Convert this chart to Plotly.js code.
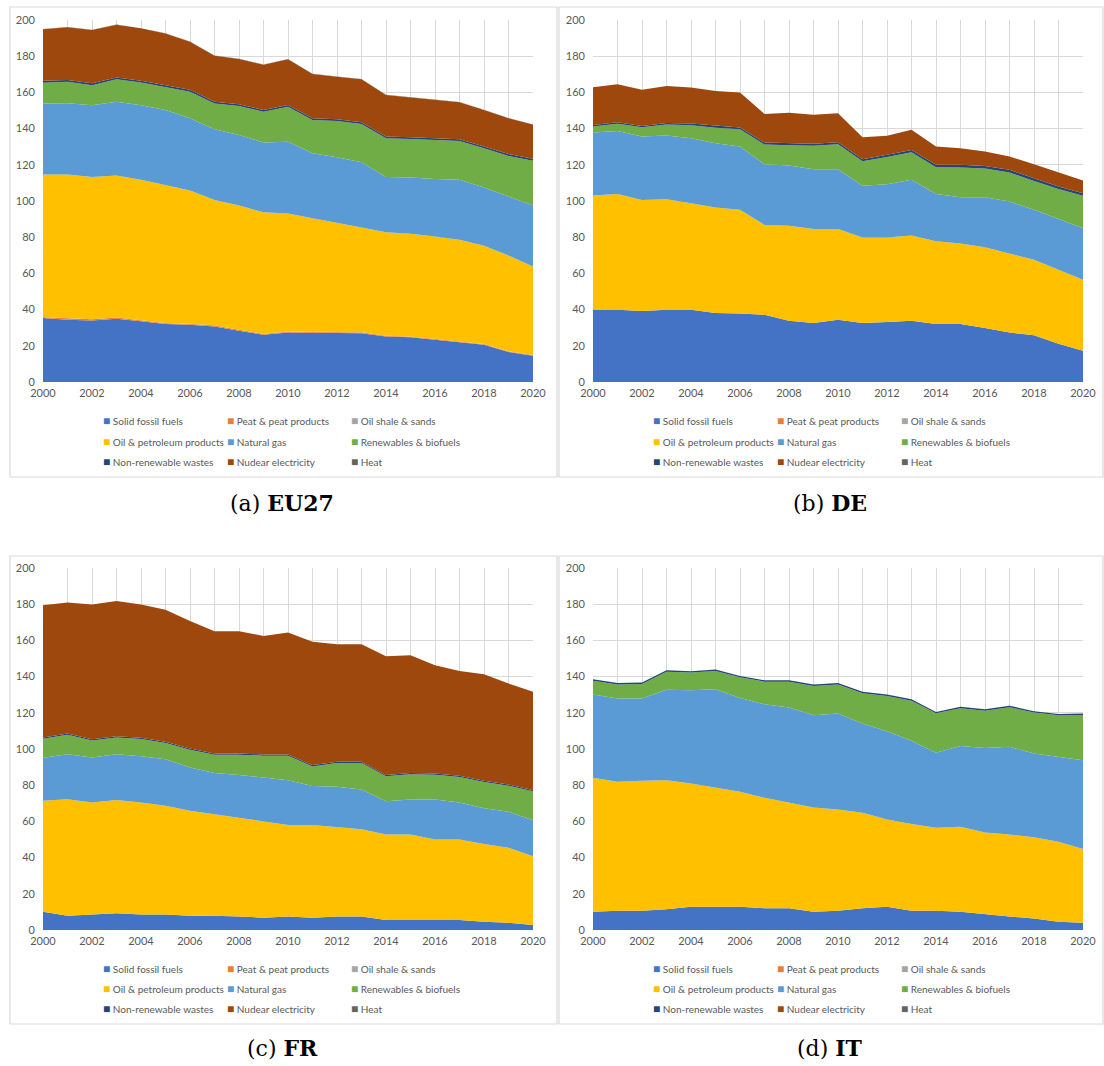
<!DOCTYPE html>
<html>
<head>
<meta charset="utf-8">
<script src="https://cdn.plot.ly/plotly-3.0.1.min.js"></script>
<style>
html,body{margin:0;padding:0;background:#fff;}
#chart{width:1104px;height:1066px;}
</style>
</head>
<body>
<div id="chart"></div>
<script>
// ---------- data ----------
const years = [2000,2001,2002,2003,2004,2005,2006,2007,2008,2009,2010,2011,2012,2013,2014,2015,2016,2017,2018,2019,2020];
const xTickLabels = ["2000","2002","2004","2006","2008","2010","2012","2014","2016","2018","2020"];

const seriesNames = ["Solid fossil fuels","Peat & peat products","Oil shale & sands","Oil & petroleum products","Natural gas","Renewables & biofuels","Non-renewable wastes","Nudear electricity","Heat"];
const seriesColors = ["#4472C4","#ED7D31","#A5A5A5","#FFC000","#5B9BD5","#70AD47","#264478","#9E480E","#636363"];

const panelCodes = ["EU27","DE","FR","IT"];
const panelLetters = ["(a)","(b)","(c)","(d)"];

// EU27
const eu_solid  = [35.3,34.4,34.0,35.0,33.5,32.0,31.6,30.7,28.3,26.1,27.4,27.4,27.4,27.0,25.2,24.7,23.4,22.1,20.6,16.6,14.5];
const eu_peat   = [0.5,0.6,0.6,0.6,0.5,0.5,0.5,0.5,0.5,0.4,0.4,0.4,0.4,0.4,0.3,0.3,0.3,0.3,0.3,0.3,0.3];
const eu_shale  = [0.1,0.1,0.1,0.1,0.1,0.1,0.1,0.1,0.1,0.1,0.1,0.1,0.1,0.1,0.1,0.1,0.1,0.1,0.1,0.1,0.1];
const eu_oil    = [78.8,79.5,78.5,78.4,77.6,76.0,73.6,69.3,68.6,67.2,65.2,62.6,60.2,57.9,57.2,56.8,56.6,56.1,54.3,52.9,48.9];
const eu_gas    = [39.2,39.4,39.7,40.8,41.2,41.7,39.9,39.0,39.0,38.5,39.7,35.9,36.1,36.0,30.4,31.1,31.8,33.1,32.2,32.6,33.7];
const eu_ren    = [11.5,11.9,11.1,12.3,12.6,12.8,14.7,14.3,16.0,17.0,19.3,18.3,20.0,21.1,21.4,21.2,21.5,21.4,21.6,22.4,24.8];
const eu_waste  = [1.0,1.0,1.0,1.0,1.0,1.0,1.0,1.0,1.0,1.0,1.0,1.0,1.0,1.0,1.0,1.0,1.0,1.0,1.0,1.0,1.0];
const eu_nuc    = [28.5,29.1,29.5,29.2,28.9,28.5,26.6,25.4,25.0,25.0,25.2,24.5,23.5,23.8,23.0,22.1,21.1,20.5,20.2,19.8,18.9];
const eu_heat   = [0.1,0.1,0.1,0.1,0.1,0.1,0.1,0.1,0.1,0.1,0.1,0.1,0.1,0.1,0.1,0.1,0.1,0.1,0.1,0.1,0.1];

// DE
const de_solid  = [39.9,39.9,39.2,39.9,39.9,38.1,37.9,37.2,33.9,32.6,34.4,32.6,33.1,33.9,32.0,32.0,29.8,27.4,25.8,21.2,17.3];
const de_peat   = [0,0,0,0,0,0,0,0,0,0,0,0,0,0,0,0,0,0,0,0,0];
const de_shale  = [0,0,0,0,0,0,0,0,0,0,0,0,0,0,0,0,0,0,0,0,0];
const de_oil    = [63.1,63.9,61.3,61.1,58.9,58.3,57.2,49.6,52.4,51.9,50.1,47.3,46.8,47.1,45.8,44.5,44.7,43.8,41.7,40.8,39.2];
const de_gas    = [34.8,34.9,35.1,35.2,35.9,35.5,35.0,33.5,33.3,33.1,33.1,28.5,29.4,30.7,26.0,25.6,27.6,28.5,27.6,28.2,28.5];
const de_ren    = [3.4,4.0,5.1,6.0,7.2,8.6,9.5,10.9,11.2,12.9,13.7,13.5,15.0,15.2,14.8,16.4,15.8,16.0,16.0,16.4,17.9];
const de_waste  = [0.8,0.8,0.8,0.9,0.9,1.0,1.0,1.1,1.1,1.1,1.2,1.2,1.2,1.3,1.4,1.5,1.5,1.5,1.5,1.4,1.4];
const de_nuc    = [20.8,21.0,19.9,20.5,19.9,19.3,19.3,15.8,16.9,16.0,16.0,12.1,10.5,11.1,10.1,9.2,7.9,7.4,7.7,7.7,7.0];
const de_heat   = [0,0,0,0,0,0,0,0,0,0,0,0,0,0,0,0,0,0,0,0,0];

// FR
const fr_solid  = [10.1,7.9,8.6,9.2,8.6,8.6,7.9,7.9,7.4,6.8,7.4,6.8,7.4,7.4,5.5,5.5,5.5,5.5,4.6,4.0,2.8];
const fr_peat   = [0,0,0,0,0,0,0,0,0,0,0,0,0,0,0,0,0,0,0,0,0];
const fr_shale  = [0,0,0,0,0,0,0,0,0,0,0,0,0,0,0,0,0,0,0,0,0];
const fr_oil    = [61.3,64.4,61.9,62.6,61.9,60.0,58.0,56.1,54.6,53.5,50.6,51.2,49.3,48.3,47.3,47.3,44.5,44.5,42.9,41.4,38.0];
const fr_gas    = [23.7,24.8,24.8,25.3,25.5,25.8,23.9,22.8,23.6,23.8,24.8,21.5,22.4,21.9,18.4,19.3,22.1,20.5,19.7,19.9,19.9];
const fr_ren    = [10.5,10.8,9.4,9.3,9.5,8.9,9.8,10.0,11.2,12.2,13.5,10.9,13.1,14.6,13.7,14.0,13.7,14.0,14.5,14.4,15.9];
const fr_waste  = [0.7,0.7,0.7,0.7,0.7,0.7,0.7,0.7,0.7,0.7,0.7,0.7,0.7,0.7,0.7,0.7,0.7,0.7,0.7,0.7,0.7];
const fr_nuc    = [73.1,72.3,74.4,74.7,73.6,73.0,70.4,67.5,67.5,65.5,67.3,68.1,65.0,65.0,65.6,65.0,59.8,57.9,58.9,55.8,54.3];
const fr_heat   = [0,0,0,0,0,0,0,0,0,0,0,0,0,0,0,0,0,0,0,0,0];

// IT
const it_solid  = [10.1,10.7,10.7,11.4,12.9,12.9,12.9,12.0,12.0,10.1,10.7,12.0,12.9,10.7,10.7,10.1,8.6,7.4,6.4,4.6,4.0];
const it_peat   = [0,0,0,0,0,0,0,0,0,0,0,0,0,0,0,0,0,0,0,0,0];
const it_shale  = [0,0,0,0,0,0,0,0,0,0,0,0,0,0,0,0,0,0,0,0,0];
const it_oil    = [74.0,71.2,71.7,71.4,68.1,65.8,63.5,61.0,58.5,57.6,55.9,52.8,48.2,47.8,45.8,46.9,45.3,45.4,44.8,44.2,40.7];
const it_gas    = [46.0,46.0,45.5,50.0,51.5,54.3,51.8,51.7,52.4,51.0,53.0,49.3,48.7,46.0,41.4,44.7,46.7,48.4,46.3,46.9,49.1];
const it_ren    = [7.6,7.8,8.0,9.9,9.7,10.1,11.4,12.5,14.3,16.1,16.1,16.7,19.5,22.2,21.8,20.8,20.6,21.9,22.6,22.9,25.0];
const it_waste  = [0.8,0.8,0.8,0.8,0.8,0.8,0.8,0.8,0.8,0.8,0.8,0.8,0.8,0.8,0.8,0.8,0.8,0.8,0.8,0.8,0.8];
const it_nuc    = [0,0,0,0,0,0,0,0,0,0,0,0,0,0,0,0,0,0,0,0,0];
const it_heat   = [0,0,0,0,0,0,0,0,0,0,0,0,0,0,0,0,0,0,0,0,0];

const panelSeries = [
  [eu_solid,eu_peat,eu_shale,eu_oil,eu_gas,eu_ren,eu_waste,eu_nuc,eu_heat],
  [de_solid,de_peat,de_shale,de_oil,de_gas,de_ren,de_waste,de_nuc,de_heat],
  [fr_solid,fr_peat,fr_shale,fr_oil,fr_gas,fr_ren,fr_waste,fr_nuc,fr_heat],
  [it_solid,it_peat,it_shale,it_oil,it_gas,it_ren,it_waste,it_nuc,it_heat]
];

// ---------- layout geometry (pixels) ----------
const W = 1104, H = 1066;
const px = v => v / W;
const py = v => 1 - v / H;

const panels = [
  {plot:[43,533,20,382],  frame:[10,7,557,477],   legendX:101, legendY:421, capX:282, capY:503},
  {plot:[593,1083,20,382],frame:[559,7,1103,477], legendX:651, legendY:421, capX:830, capY:503},
  {plot:[43,533,568,930], frame:[10,556,557,1024],legendX:101, legendY:968, capX:282, capY:1048},
  {plot:[593,1083,568,930],frame:[559,556,1103,1024],legendX:651, legendY:968, capX:830, capY:1048}
];
const colOffsets = [0,124,248];
const rowOffsets = [0,20,40];

const traces = [];
const layout = {
  width: W, height: H,
  margin: {l:0,r:0,t:0,b:0},
  paper_bgcolor: '#ffffff',
  plot_bgcolor: '#ffffff',
  showlegend: false,
  font: {family: 'Lato, "Open Sans", sans-serif', color: '#595959', size: 11},
  shapes: [],
  annotations: []
};

panels.forEach((p, i) => {
  const ax = i === 0 ? '' : String(i + 1);
  const xname = 'xaxis' + ax, yname = 'yaxis' + ax;
  layout[xname] = {
    domain: [px(p.plot[0]), px(p.plot[1])],
    anchor: 'y' + ax,
    range: [2000, 2020],
    tickmode: 'array',
    tickvals: xTickLabels.map(Number),
    ticktext: xTickLabels,
    showgrid: true, gridcolor: '#d9d9d9', gridwidth: 1,
    minor: {dtick: 1, tick0: 2000, showgrid: true, gridcolor: '#d9d9d9', gridwidth: 1},
    zeroline: false, showline: false, ticks: '',
    ticklabelstandoff: 3,
    tickfont: {size: 11, color: '#595959'},
    fixedrange: true
  };
  layout[yname] = {
    domain: [py(p.plot[3]), py(p.plot[2])],
    anchor: 'x' + ax,
    range: [0, 200],
    dtick: 20, tick0: 0,
    showgrid: true, gridcolor: '#d9d9d9', gridwidth: 1,
    zeroline: false, showline: false, ticks: '',
    ticklabelstandoff: 7,
    tickfont: {size: 11, color: '#595959'},
    fixedrange: true
  };
  // panel frame
  layout.shapes.push({
    type: 'rect', xref: 'paper', yref: 'paper',
    x0: px(p.frame[0]), x1: px(p.frame[2]), y0: py(p.frame[3]), y1: py(p.frame[1]),
    line: {color: '#d9d9d9', width: 1.2}, fillcolor: 'rgba(0,0,0,0)', layer: 'below'
  });
  // stacked areas
  panelSeries[i].forEach((vals, k) => {
    traces.push({
      type: 'scatter', mode: 'lines',
      x: years, y: vals,
      name: seriesNames[k],
      stackgroup: 'g' + i,
      xaxis: 'x' + ax, yaxis: 'y' + ax,
      line: {width: 0, color: seriesColors[k]},
      fillcolor: seriesColors[k],
      hoverinfo: 'x+y+name'
    });
  });
  // legend (text annotations)
  seriesNames.forEach((nm, k) => {
    const r = Math.floor(k / 3), c = k % 3;
    layout.annotations.push({
      xref: 'paper', yref: 'paper',
      x: px(p.legendX + colOffsets[c]), y: py(p.legendY + rowOffsets[r]),
      xanchor: 'left', yanchor: 'middle', showarrow: false,
      text: '<span style="color:' + seriesColors[k] + ';font-size:12px">■</span> ' + nm,
      font: {size: 10, color: '#595959', family: 'Lato, "Open Sans", sans-serif'}
    });
  });
  // caption
  layout.annotations.push({
    xref: 'paper', yref: 'paper',
    x: px(p.capX), y: py(p.capY),
    xanchor: 'center', yanchor: 'middle', showarrow: false,
    text: panelLetters[i] + ' <b>' + panelCodes[i] + '</b>',
    font: {size: 22, color: '#000000', family: '"DejaVu Serif", "Liberation Serif", serif'}
  });
});

Plotly.newPlot('chart', traces, layout, {displayModeBar: false, staticPlot: true});
</script>
</body>
</html>
